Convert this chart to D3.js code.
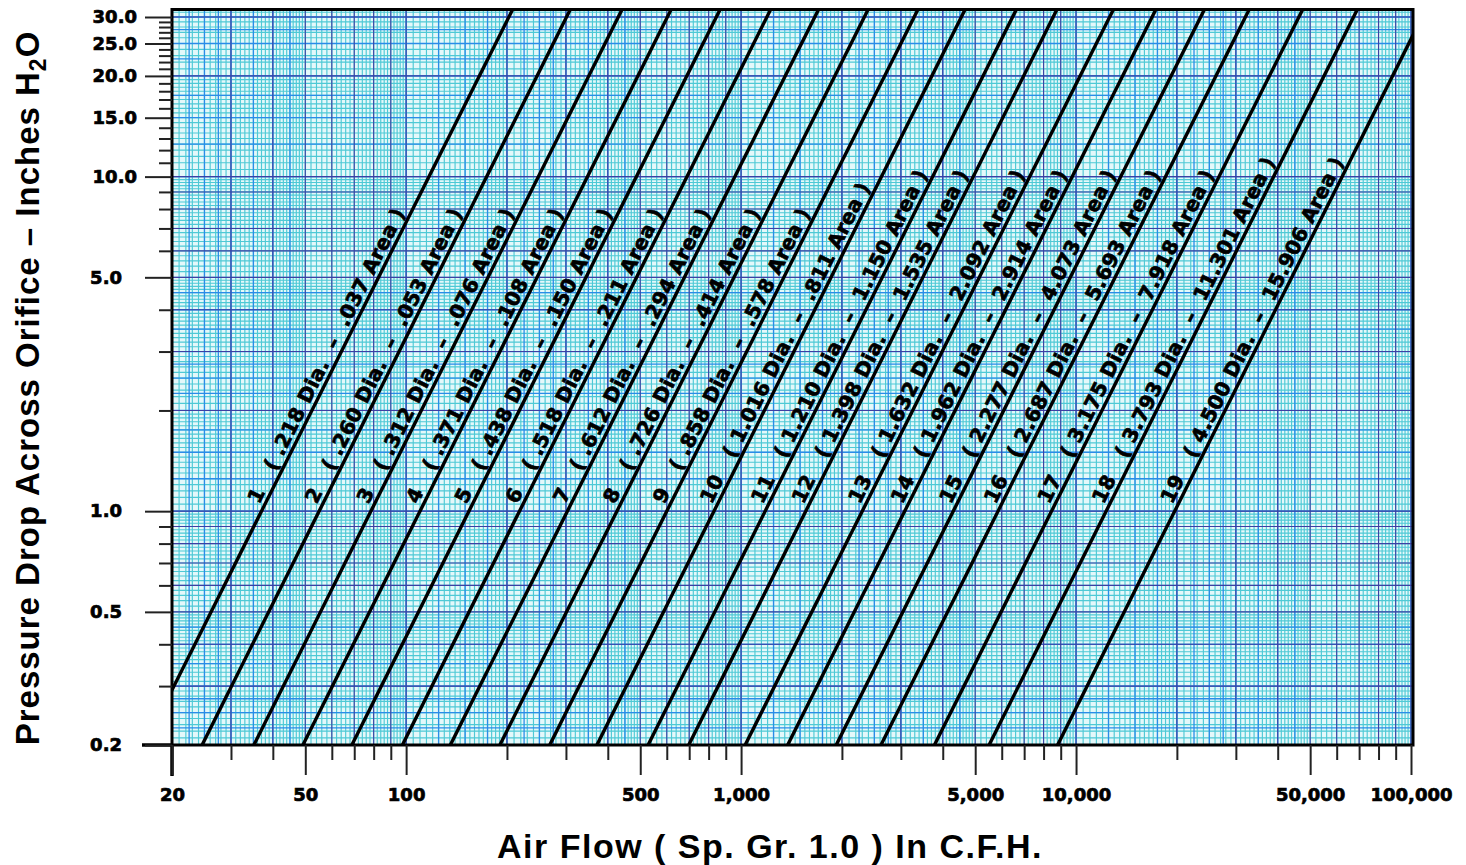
<!DOCTYPE html>
<html>
<head>
<meta charset="utf-8">
<script src="https://cdn.jsdelivr.net/npm/d3@7"></script>
<style>
    body { margin: 0; background: #fff; }
    text { font-family: "DejaVu Sans", sans-serif; font-weight: bold; fill: #000; }
    text.title { font-family: "Liberation Sans", Arial, sans-serif; }
    text.orifice { white-space: pre; font-size: 20px; letter-spacing: 0.4px; stroke: #000; stroke-width: 0.7px; }
    .tick line { stroke: #222; stroke-width: 2px; }
    .tick text { font-size: 18px; stroke: #000; stroke-width: 0.7px; }
    .domain { display: none; }
</style>
</head>
<body>
<div id="chart"></div>
<script>

    // orifice sizes, in the order they are numbered on the chart
    var orificeNumbers = ["1", "2", "3", "4", "5", "6", "7", "8", "9", "10",
        "11", "12", "13", "14", "15", "16", "17", "18", "19"];
    var diameters = [".218", ".260", ".312", ".371", ".438", ".518", ".612", ".726", ".858", "1.016",
        "1.210", "1.398", "1.632", "1.962", "2.277", "2.687", "3.175", "3.793", "4.500"];
    var areas = [".037", ".053", ".076", ".108", ".150", ".211", ".294", ".414", ".578", ".811",
        "1.150", "1.535", "2.092", "2.914", "4.073", "5.693", "7.918", "11.301", "15.906"];
    var flowAtOneInch = [37, 55, 78.5, 110, 154, 218, 303, 426, 600, 830,
        1180, 1560, 2300, 3080, 4300, 5850, 8450, 12300, 19700];

    var xTickValues = [20, 50, 100, 500, 1000, 5000, 10000, 50000, 100000];
    var xTickLabels = ["20", "50", "100", "500", "1,000", "5,000", "10,000", "50,000", "100,000"];
    var yTickValues = [0.2, 0.5, 1, 5, 10, 15, 20, 25, 30];
    var yTickLabels = ["0.2", "0.5", "1.0", "5.0", "10.0", "15.0", "20.0", "25.0", "30.0"];

    var width = 1466, height = 865;
    var plotLeft = 172, plotRight = 1413, plotTop = 9.5, plotBottom = 745;

    var x = d3.scaleLog().domain([20, 100000]).range([plotLeft, 1411]);
    var y = d3.scaleLog().domain([0.2, 30]).range([plotBottom, 17]);
    var xMax = x.invert(plotRight), yMax = y.invert(plotTop);

    var svg = d3.select("#chart").append("svg")
        .attr("width", width)
        .attr("height", height);

    svg.append("defs").append("clipPath").attr("id", "plot-clip")
        .append("rect")
        .attr("x", plotLeft).attr("y", plotTop)
        .attr("width", plotRight - plotLeft).attr("height", plotBottom - plotTop);

    // log paper: value lists per decade, built from mantissa steps
    function paperValues(lo, hi, pieces) {
        var out = [];
        for (var k = -1; k <= 5; k++) {
            var p = Math.pow(10, k);
            pieces.forEach(function (pc) {
                var n = Math.round((pc[1] - pc[0]) / pc[2]);
                for (var i = 0; i < n; i++) {
                    var v = +((pc[0] + i * pc[2]) * p).toPrecision(6);
                    if (v >= lo && v <= hi) out.push(v);
                }
            });
        }
        return out;
    }

    var finePieces = [[1, 2, 0.05], [2, 5, 0.1], [5, 10, 0.2]];
    var bluePieces = [[1, 3, 0.25], [3, 5, 0.5]];
    var navyPieces = [[1, 10, 1]];

    var paper = svg.append("g").attr("clip-path", "url(#plot-clip)");

    paper.append("rect")
        .attr("x", plotLeft).attr("y", plotTop)
        .attr("width", plotRight - plotLeft).attr("height", plotBottom - plotTop)
        .attr("fill", "#e4f8fa");

    function drawGrid(cls, pieces, color, w) {
        var g = paper.append("g").attr("class", cls)
            .attr("stroke", color).attr("stroke-width", w);
        g.selectAll("line.v")
            .data(paperValues(20, xMax, pieces))
            .enter().append("line")
            .attr("class", "v")
            .attr("x1", function (d) { return x(d); })
            .attr("x2", function (d) { return x(d); })
            .attr("y1", plotTop).attr("y2", plotBottom);
        g.selectAll("line.h")
            .data(paperValues(0.2, yMax, pieces))
            .enter().append("line")
            .attr("class", "h")
            .attr("y1", function (d) { return y(d); })
            .attr("y2", function (d) { return y(d); })
            .attr("x1", plotLeft).attr("x2", plotRight);
    }

    drawGrid("fine", finePieces, "#4ec9d5", 1.15);
    drawGrid("blue", bluePieces, "#2a8ce8", 1.3);
    drawGrid("navy", navyPieces, "#3d3fa3", 1.1);

    // flow lines: Q = Q1 * sqrt(P)
    var lineData = flowAtOneInch.map(function (q1, i) {
        return {
            num: orificeNumbers[i], dia: diameters[i], area: areas[i],
            flow: function (p) { return q1 * Math.sqrt(p); }
        };
    });

    var path = d3.line()
        .x(function (d) { return x(d[0]); })
        .y(function (d) { return y(d[1]); });

    paper.selectAll("path.flow")
        .data(lineData)
        .enter().append("path")
        .attr("class", "flow")
        .attr("d", function (d) {
            return path([[d.flow(0.15), 0.15], [d.flow(40), 40]]);
        })
        .attr("fill", "none")
        .attr("stroke", "#000")
        .attr("stroke-width", 3.4);

    var labelStart = 1.03, gap = 5;
    svg.append("g").selectAll("text.orifice")
        .data(lineData)
        .enter().append("text")
        .attr("class", "orifice")
        .attr("transform", function (d) {
            var x0 = x(d.flow(labelStart)), y0 = y(labelStart);
            var x1 = x(d.flow(10)), y1 = y(10);
            var a = Math.atan2(y1 - y0, x1 - x0);
            var bx = x0 + gap * Math.sin(a), by = y0 - gap * Math.cos(a);
            return "translate(" + bx + "," + by + ") rotate(" + (a * 180 / Math.PI) + ")";
        })
        .text(function (d) { return d.num + "   ( " + d.dia + " Dia.  –  " + d.area + " Area )"; });

    // frame
    svg.append("rect")
        .attr("x", plotLeft).attr("y", plotTop)
        .attr("width", plotRight - plotLeft).attr("height", plotBottom - plotTop)
        .attr("fill", "none").attr("stroke", "#000").attr("stroke-width", 3);
    svg.append("line")
        .attr("x1", 142).attr("x2", plotLeft).attr("y1", plotBottom).attr("y2", plotBottom)
        .attr("stroke", "#000").attr("stroke-width", 3.5);
    svg.append("line")
        .attr("x1", plotLeft).attr("x2", plotLeft).attr("y1", plotBottom).attr("y2", 776)
        .attr("stroke", "#000").attr("stroke-width", 3.5);

    // axes
    var xMinor = paperValues(21, 100000, navyPieces).filter(function (d) { return xTickValues.indexOf(d) < 0; });
    var yMinor = paperValues(0.21, 30, navyPieces).filter(function (d) { return yTickValues.indexOf(d) < 0; });
    yMinor = yMinor.concat([11, 12, 13, 14, 16, 17, 18, 19, 21, 22, 23, 24, 26, 27, 28, 29]);

    svg.append("g")
        .attr("transform", "translate(0," + plotBottom + ")")
        .call(d3.axisBottom(x).tickValues(xMinor).tickSize(15).tickFormat(""));
    svg.append("g")
        .attr("transform", "translate(0," + plotBottom + ")")
        .call(d3.axisBottom(x).tickValues(xTickValues).tickSize(30).tickPadding(13)
            .tickFormat(function (d, i) { return xTickLabels[i]; }));

    svg.append("g")
        .attr("transform", "translate(" + plotLeft + ",0)")
        .call(d3.axisLeft(y).tickValues(yMinor).tickSize(13).tickFormat(""));
    var yAxis = svg.append("g")
        .attr("transform", "translate(" + plotLeft + ",0)")
        .call(d3.axisLeft(y).tickValues(yTickValues).tickSize(27).tickPadding(8)
            .tickFormat(function (d, i) { return yTickLabels[i]; }));
    // the short labels sit further out on the original paper
    yAxis.selectAll(".tick text")
        .attr("x", function (d) { return d < 10 ? -50 : -35; });

    // axis titles
    svg.append("text")
        .attr("class", "title")
        .attr("x", 770).attr("y", 858)
        .attr("text-anchor", "middle")
        .attr("font-size", 34)
        .attr("letter-spacing", 1.5)
        .text("Air Flow  ( Sp.  Gr.  1.0 )  In  C.F.H.");

    var yt = svg.append("text")
        .attr("class", "title")
        .attr("transform", "translate(39,388) rotate(-90)")
        .attr("text-anchor", "middle")
        .attr("font-size", 33)
        .attr("letter-spacing", 1);
    yt.append("tspan").text("Pressure Drop Across Orifice  –  Inches H");
    yt.append("tspan").attr("dy", 7).attr("font-size", 23).text("2");
    yt.append("tspan").attr("dy", -7).text("O");

</script>
</body>
</html>
